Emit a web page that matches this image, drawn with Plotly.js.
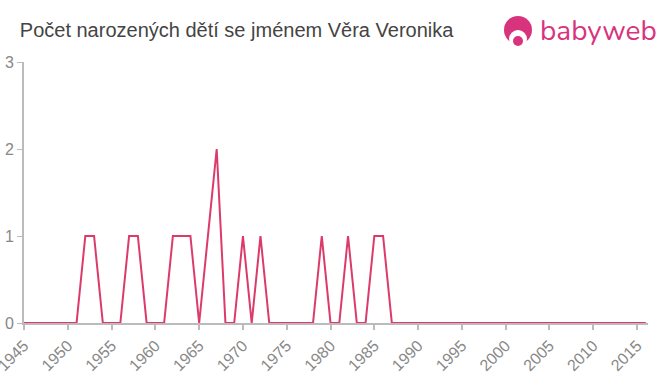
<!DOCTYPE html>
<html>
<head>
<meta charset="utf-8">
<script src="https://cdn.plot.ly/plotly-3.0.1.min.js"></script>
<style>html,body{margin:0;padding:0;background:#fff;}#chart{width:660px;height:375px;}</style>
</head>
<body>
<div id="chart"></div>
<script>
const years = [1945,1946,1947,1948,1949,1950,1951,1952,1953,1954,1955,1956,1957,1958,1959,1960,1961,1962,1963,1964,1965,1966,1967,1968,1969,1970,1971,1972,1973,1974,1975,1976,1977,1978,1979,1980,1981,1982,1983,1984,1985,1986,1987,1988,1989,1990,1991,1992,1993,1994,1995,1996,1997,1998,1999,2000,2001,2002,2003,2004,2005,2006,2007,2008,2009,2010,2011,2012,2013,2014,2015,2016];
const counts = [0,0,0,0,0,0,0,1,1,0,0,0,1,1,0,0,0,1,1,1,0,1,2,0,0,1,0,1,0,0,0,0,0,0,1,0,0,1,0,0,1,1,0,0,0,0,0,0,0,0,0,0,0,0,0,0,0,0,0,0,0,0,0,0,0,0,0,0,0,0,0,0];
const xTickVals = [1945,1950,1955,1960,1965,1970,1975,1980,1985,1990,1995,2000,2005,2010,2015];
const yTickVals = [0,1,2,3];
const titleText = "Počet narozených dětí se jménem Věra Veronika";
const logoText = "babyweb";

const pink = "#d8347e";
const trace = {
  x: years, y: counts, type: "scatter", mode: "lines",
  line: {color: "#dc3a6b", width: 2}, hoverinfo: "x+y"
};
function px(cx, cy, r, color) {
  return {type: "circle", xref: "paper", yref: "paper", xsizemode: "pixel", ysizemode: "pixel",
    xanchor: (cx - 24) / 624, yanchor: (323 - cy) / 261, x0: -r, x1: r, y0: -r, y1: r,
    fillcolor: color, line: {width: 0}};
}
const layout = {
  width: 660, height: 375,
  margin: {l: 24, r: 12, t: 62, b: 52},
  paper_bgcolor: "#fff", plot_bgcolor: "#fff",
  showlegend: false,
  title: {text: titleText, x: 0.03, xanchor: "left", y: 0.92, yanchor: "middle",
          font: {family: "Liberation Sans, Arial, sans-serif", size: 20, color: "#444"}},
  xaxis: {
    range: [1944.999, 2016.25], tickvals: xTickVals, ticktext: xTickVals.map(String),
    tickangle: -45, ticks: "outside", ticklen: 5, tickcolor: "#bbb", tickwidth: 2,
    ticklabeloverflow: "allow",
    showline: true, linecolor: "#bbb", linewidth: 2, showgrid: false, zeroline: false,
    tickfont: {family: "Liberation Sans, Arial, sans-serif", size: 16, color: "#888"}
  },
  yaxis: {
    range: [0, 3], tickvals: yTickVals, ticks: "outside", ticklen: 5, tickcolor: "#bbb", tickwidth: 1,
    showline: true, linecolor: "#bbb", linewidth: 2, showgrid: false, zeroline: false,
    tickfont: {family: "Liberation Sans, Arial, sans-serif", size: 16, color: "#888"}
  },
  shapes: [
    px(518, 30, 14, pink),
    px(518, 39, 9, "#fff"),
    px(518, 41, 5, pink)
  ],
  annotations: [
    {text: logoText, xref: "paper", yref: "paper", x: (538 - 24) / 624, y: (323 - 31) / 261, xanchor: "left", yanchor: "middle",
     showarrow: false, font: {family: "Nunito, Lato, Open Sans, sans-serif", size: 28, color: pink}}
  ]
};
Plotly.newPlot("chart", [trace], layout, {displayModeBar: false, staticPlot: true});
</script>
</body>
</html>
